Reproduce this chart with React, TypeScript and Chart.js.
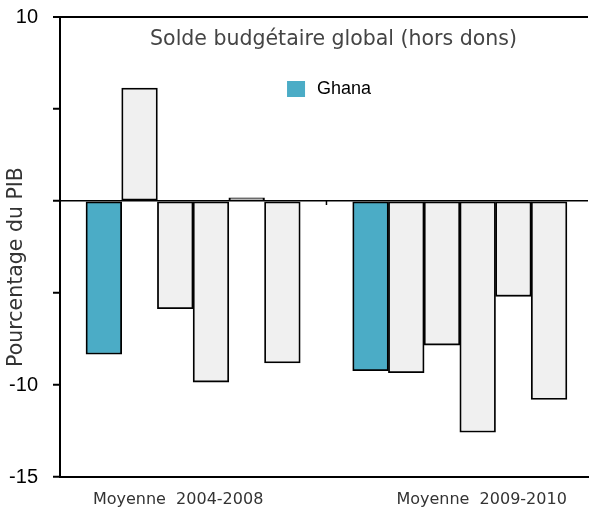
import React, { useEffect, useRef } from 'react';
import { Chart, registerables } from 'chart.js';

Chart.register(...registerables);

const chartTitle = 'Solde budgétaire global (hors dons)';
const yAxisTitle = 'Pourcentage du PIB';
const ghanaLabel = 'Ghana';
const periodLabels = ['Moyenne  2004-2008', 'Moyenne  2009-2010'];
const periodLabelSlots = [2.58, 11.08];
const groupStartSlots = [0, 7.47];
const ghanaValues = [-8.33, -9.22];
const comparatorValues2004 = [6.14, -5.85, -9.84, 0.17, -8.8];
const comparatorValues2009 = [-9.33, -7.83, -12.57, -5.18, -10.78];
const yTickValues = [10, 5, 0, -5, -10, -15];
const yLabelledTicks = [10, -10, -15];

const TEAL = '#4BACC6';
const LIGHT = '#F0F0F0';
const ARIAL = "'Liberation Sans', Arial, sans-serif";
const HUMANIST = "'DejaVu Sans', sans-serif";

const comparatorGroups = [comparatorValues2004, comparatorValues2009];

const ghanaPoints = ghanaValues.map((y, g) => ({ x: groupStartSlots[g] + 0.5, y }));
const comparatorPoints = comparatorGroups.flatMap((vals, g) =>
  vals.map((y, i) => ({ x: groupStartSlots[g] + 1.5 + i, y }))
);
const gapSlot = (groupStartSlots[0] + 6 + groupStartSlots[1]) / 2;

const overlayPlugin = {
  id: 'overlay',
  afterDraw(chart: any) {
    const { ctx, chartArea, scales } = chart;
    const { left, right, top, bottom } = chartArea;
    const w = right - left;
    ctx.save();
    // small tick in the gap on the zero line
    const gx = scales.x.getPixelForValue(gapSlot);
    const gy = scales.y.getPixelForValue(0);
    ctx.strokeStyle = '#000';
    ctx.lineWidth = 1.5;
    ctx.beginPath();
    ctx.moveTo(gx, gy);
    ctx.lineTo(gx, gy + 4);
    ctx.stroke();

    // title
    ctx.fillStyle = '#444';
    ctx.font = `20.5px ${HUMANIST}`;
    ctx.textAlign = 'center';
    ctx.textBaseline = 'middle';
    ctx.fillText(chartTitle, left + w * 0.518, top + 23);

    // legend
    const lx = left + w * 0.43;
    ctx.fillStyle = TEAL;
    ctx.fillRect(lx, top + 64, 18, 16);
    ctx.fillStyle = '#000';
    ctx.font = `18px ${ARIAL}`;
    ctx.textAlign = 'left';
    ctx.fillText(ghanaLabel, lx + 30, top + 72);

    // y axis title
    ctx.translate(left - 43, (top + bottom) / 2 + 20);
    ctx.rotate(-Math.PI / 2);
    ctx.fillStyle = '#333';
    ctx.font = `20.5px ${HUMANIST}`;
    ctx.textAlign = 'center';
    ctx.fillText(yAxisTitle, 0, 0);
    ctx.restore();
  },
};

export default function App() {
  const ref = useRef<HTMLCanvasElement | null>(null);
  useEffect(() => {
    if (!ref.current) return;
    const chart = new Chart(ref.current, {
      type: 'bar',
      data: {
        datasets: [
          {
            label: ghanaLabel,
            data: ghanaPoints as any,
            backgroundColor: TEAL,
            borderColor: '#000',
            borderWidth: 1.8,
            borderSkipped: false,
            grouped: false,
            barPercentage: 1,
            categoryPercentage: 1,
          } as any,
          {
            label: 'Autres',
            data: comparatorPoints as any,
            backgroundColor: LIGHT,
            borderColor: '#000',
            borderWidth: 1.8,
            borderSkipped: false,
            grouped: false,
            barPercentage: 1,
            categoryPercentage: 1,
          } as any,
        ],
      },
      options: {
        animation: false,
        responsive: false,
        devicePixelRatio: 1,
        layout: { padding: { top: 17, right: 1, bottom: 4, left: 0 } },
        plugins: { legend: { display: false }, tooltip: { enabled: false }, title: { display: false } },
        scales: {
          x: {
            type: 'linear',
            min: -0.728,
            max: 14.06,
            offset: false,
            grid: { display: false, drawTicks: false },
            border: { display: true, color: '#000', width: 2 },
            afterBuildTicks: (s: any) => {
              s.ticks = periodLabelSlots.map((v) => ({ value: v }));
            },
            afterFit: (s: any) => {
              s.height = 32;
              s.paddingLeft = 0;
              s.paddingRight = 0;
            },
            ticks: {
              autoSkip: false,
              maxRotation: 0,
              padding: 13,
              color: '#333',
              font: { family: HUMANIST, size: 16 },
              callback: (_v: any, i: number) => periodLabels[i],
            },
          },
          y: {
            type: 'linear',
            min: -15,
            max: 10,
            afterBuildTicks: (s: any) => {
              s.ticks = yTickValues.map((v) => ({ value: v }));
            },
            afterFit: (s: any) => {
              s.width = 60;
              s.paddingTop = 0;
              s.paddingBottom = 0;
            },
            grid: {
              drawOnChartArea: true,
              color: (c: any) =>
                c.tick && (c.tick.value === 0 || c.tick.value === 10) ? '#000' : 'rgba(0,0,0,0)',
              lineWidth: (c: any) => (c.tick && c.tick.value === 10 ? 2 : 1.5),
              tickColor: '#000',
              tickWidth: 2,
              tickLength: 7,
            },
            border: { display: true, color: '#000', width: 2 },
            ticks: {
              padding: 15,
              color: '#000',
              font: { family: ARIAL, size: 20 },
              callback: (v: any) => (yLabelledTicks.includes(Number(v)) ? String(v) : ''),
            },
          },
        },
      },
      plugins: [overlayPlugin],
    });
    return () => chart.destroy();
  }, []);
  return (
    <div style={{ position: 'fixed', left: 0, top: 0, width: 589, height: 513, background: '#fff' }}>
      <canvas ref={ref} width={589} height={513} style={{ display: 'block' }} />
    </div>
  );
}
